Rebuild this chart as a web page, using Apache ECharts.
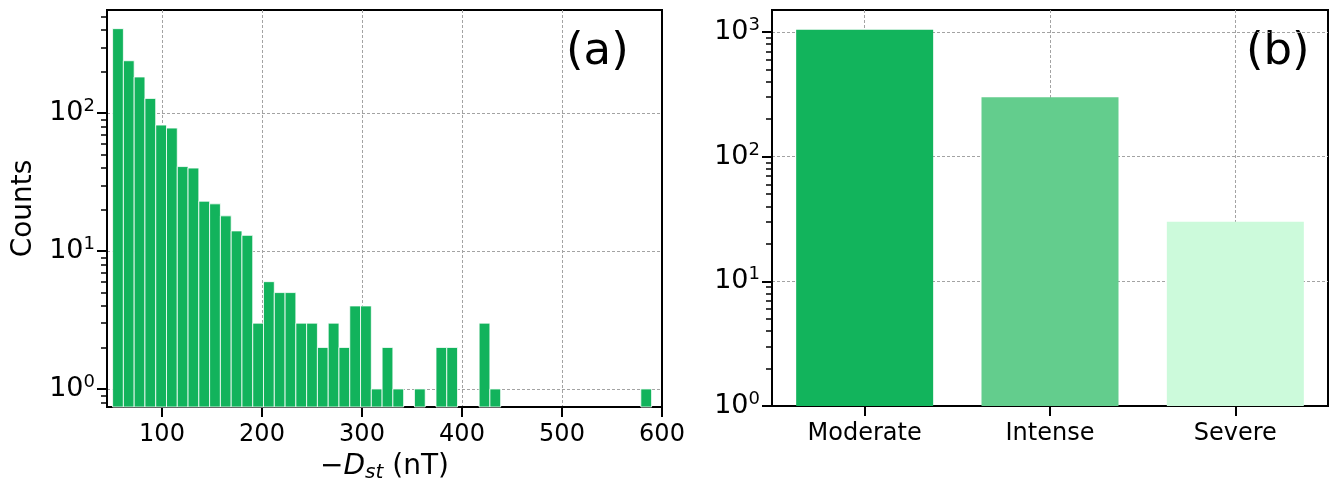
<!DOCTYPE html>
<html>
<head>
<meta charset="utf-8">
<script src="https://cdn.jsdelivr.net/npm/echarts@6/dist/echarts.min.js"></script>
<style>
html, body { margin: 0; padding: 0; background: #fff; }
#chart { width: 1331px; height: 484px; }
</style>
</head>
<body>
<div id="chart"></div>
<script>
// (a) histogram of -Dst, 50 equal bins
var binStart = 50.6;
var binWidth = 10.78;
var counts = [410, 240, 183, 128, 82, 78, 41, 40, 23, 22,
              18, 14, 13, 3, 6, 5, 5, 3, 3, 2,
              3, 2, 4, 4, 1, 2, 1, 0, 1, 0,
              2, 2, 0, 0, 3, 1, 0, 0, 0, 0,
              0, 0, 0, 0, 0, 0, 0, 0, 0, 1];
var xTicksA = [100, 200, 300, 400, 500, 600];
var yMajorA = [1, 10, 100];
var yMinorA = [0.8, 0.9, 2, 3, 4, 5, 6, 7, 8, 9, 20, 30, 40, 50, 60, 70, 80, 90, 200, 300, 400, 500];

// (b) storm classes
var classes = ['Moderate', 'Intense', 'Severe'];
var classCounts = [1043, 300, 30];
var classColors = ['#12b45c', '#63cd8d', '#ccfadb'];
var xTicksB = [0, 1, 2];
var yMajorB = [1, 10, 100, 1000];
var yMinorB = [2, 3, 4, 5, 6, 7, 8, 9, 20, 30, 40, 50, 60, 70, 80, 90, 200, 300, 400, 500, 600, 700, 800, 900];

var FONT = 'DejaVu Sans';
var histColor = '#12b35c';

var histData = [];
for (var i = 0; i < counts.length; i++) {
  if (counts[i] > 0) {
    histData.push([binStart + i * binWidth, binStart + (i + 1) * binWidth, counts[i]]);
  }
}

// dashed grid; the edge flags drop lines that sit on the frame
function gridLine(showMin, showMax) {
  return { show: true, showMinLine: showMin, showMaxLine: showMax,
           lineStyle: { color: '#a3a3a3', type: [3, 2], width: 1 } };
}
var axisLine = { show: true, onZero: false, lineStyle: { color: '#000', width: 2 } };
var majorTick = { color: '#000', width: 2 };
var supRich = {
  sup: { fontFamily: FONT, fontSize: 18, color: '#000', padding: [0, 0, 13, 0] }
};
function powLabel(v) {
  return '10{sup|' + Math.round(Math.log10(v)) + '}';
}

function majorY(grid, min, max, ticks, split, extra) {
  var ax = {
    type: 'log', logBase: 10, gridIndex: grid, min: min, max: max, position: 'left',
    axisLine: axisLine,
    axisTick: { show: true, length: 10, customValues: ticks, lineStyle: majorTick },
    axisLabel: { customValues: ticks, formatter: powLabel, margin: 12, fontFamily: FONT, fontSize: 27, color: '#000', rich: supRich },
    splitLine: split,
    minorTick: { show: false }
  };
  for (var k in extra) ax[k] = extra[k];
  return ax;
}
function minorY(grid, min, max, ticks) {
  return {
    type: 'log', logBase: 10, gridIndex: grid, min: min, max: max, position: 'left',
    axisLine: { show: false, onZero: false },
    axisTick: { show: true, length: 6, customValues: ticks, lineStyle: { color: '#000', width: 1.5 } },
    axisLabel: { show: false },
    splitLine: { show: false }
  };
}

var chart = echarts.init(document.getElementById('chart'), null, { renderer: 'canvas' });
chart.setOption({
  animation: false,
  backgroundColor: '#fff',
  grid: [
    { left: 107, top: 10, width: 555, height: 397, show: true, borderColor: '#000', borderWidth: 2, outerBoundsMode: 'none', containLabel: false },
    { left: 772, top: 10, width: 556, height: 396, show: true, borderColor: '#000', borderWidth: 2, outerBoundsMode: 'none', containLabel: false }
  ],
  xAxis: [
    {
      type: 'value', gridIndex: 0, min: 45, max: 600,
      axisLine: axisLine,
      axisTick: { show: true, length: 10, customValues: xTicksA, lineStyle: majorTick },
      axisLabel: { customValues: xTicksA, margin: 16, fontFamily: FONT, fontSize: 24, color: '#000' },
      splitLine: gridLine(true, false),
      name: '\u2212{i|D}{sub|st} (nT)',
      nameLocation: 'middle', nameGap: 44,
      nameTextStyle: {
        fontFamily: FONT, fontSize: 28, color: '#000',
        rich: {
          i: { fontFamily: FONT, fontSize: 28, fontStyle: 'italic', color: '#000' },
          sub: { fontFamily: FONT, fontSize: 20, fontStyle: 'italic', color: '#000', padding: [12, 0, 0, 0] }
        }
      }
    },
    {
      type: 'value', gridIndex: 1, min: -0.5, max: 2.5,
      axisLine: axisLine,
      axisTick: { show: true, length: 10, customValues: xTicksB, lineStyle: majorTick },
      axisLabel: {
        customValues: xTicksB, margin: 16, fontFamily: FONT, fontSize: 24, color: '#000',
        formatter: function (v) { return classes[Math.round(v)]; }
      },
      splitLine: gridLine(true, true)
    }
  ],
  yAxis: [
    majorY(0, 0.74, 560, yMajorA, gridLine(true, true), {
      name: 'Counts', nameLocation: 'middle', nameGap: 69, nameRotate: 90,
      nameTextStyle: { fontFamily: FONT, fontSize: 28, color: '#000' }
    }),
    minorY(0, 0.74, 560, yMinorA),
    majorY(1, 1, 1500, yMajorB, gridLine(false, true), {}),
    minorY(1, 1, 1500, yMinorB)
  ],
  series: [
    {
      type: 'custom', xAxisIndex: 0, yAxisIndex: 0,
      data: histData,
      encode: { x: [0, 1], y: 2 },
      renderItem: function (params, api) {
        var p0 = api.coord([api.value(0), api.value(2)]);
        var p1 = api.coord([api.value(1), api.value(2)]);
        var base = params.coordSys.y + params.coordSys.height;
        return {
          type: 'rect',
          shape: { x: p0[0], y: p0[1], width: p1[0] - p0[0], height: base - p0[1] },
          style: { fill: histColor, stroke: '#ffffff', lineWidth: 0.8 }
        };
      }
    },
    {
      type: 'bar', xAxisIndex: 1, yAxisIndex: 2,
      barWidth: 137,
      data: classCounts.map(function (v, i) {
        return { value: [i, v], itemStyle: { color: classColors[i] } };
      })
    }
  ],
  graphic: [
    { type: 'text', left: 566, top: 30, style: { text: '(a)', fontFamily: FONT, fontSize: 45, fill: '#000' } },
    { type: 'text', left: 1246, top: 30, style: { text: '(b)', fontFamily: FONT, fontSize: 45, fill: '#000' } }
  ]
});
</script>
</body>
</html>
